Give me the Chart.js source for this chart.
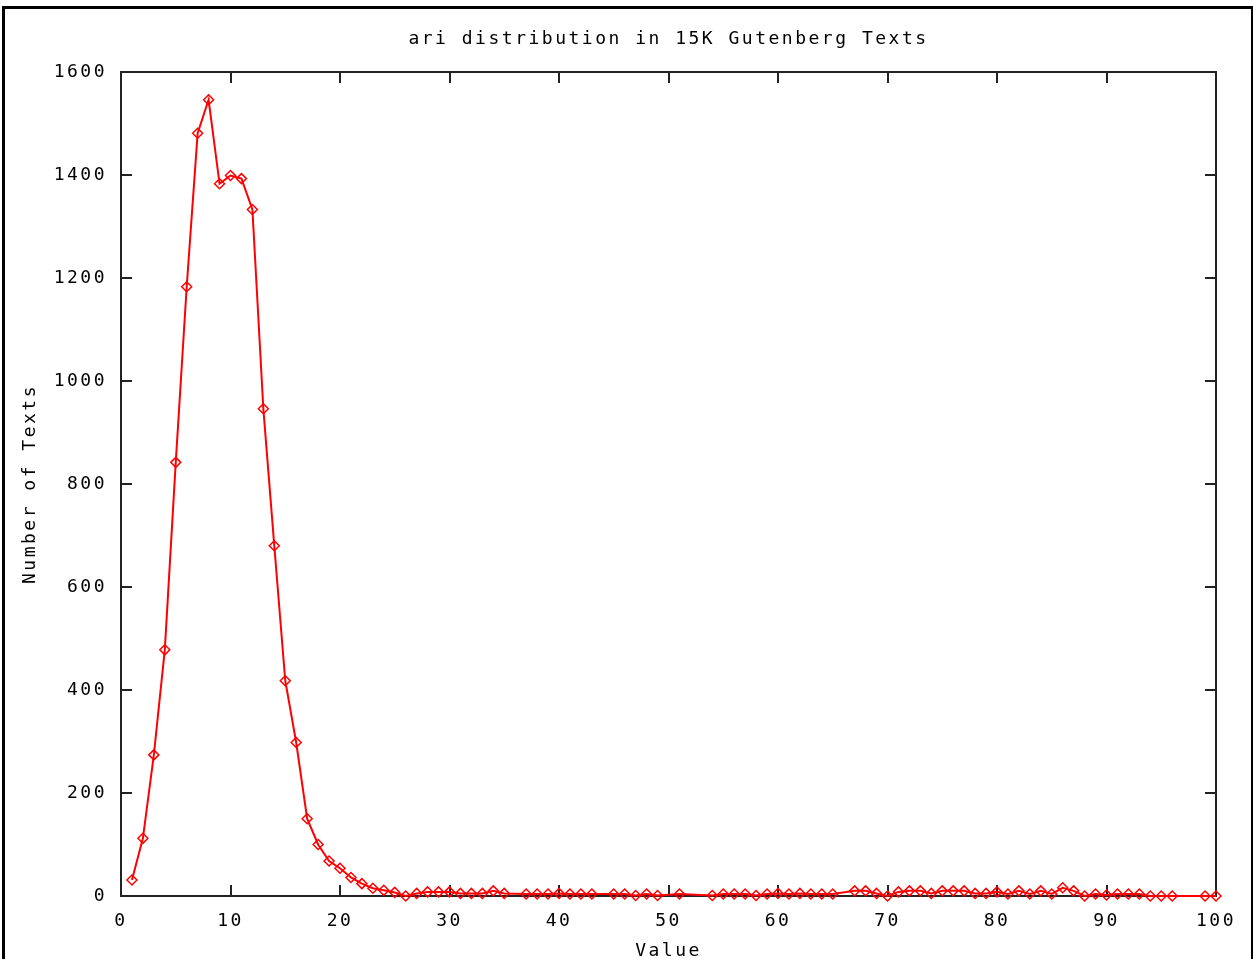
<!DOCTYPE html>
<html>
<head>
<meta charset="utf-8">
<title>ari distribution</title>
<script src="https://cdn.jsdelivr.net/npm/chart.js@4/dist/chart.umd.min.js"></script>
<style>
  html, body { margin:0; padding:0; background:#fff; }
  #wrap { position:relative; width:1253px; height:959px; overflow:hidden; }
  #chart { position:absolute; left:0; top:0; }
  #frame { position:absolute; left:2px; top:6px; width:1246px; height:970px;
           border:3px solid #000; border-bottom:none; pointer-events:none; }
</style>
</head>
<body>
<div id="wrap">
  <canvas id="chart" width="1253" height="959"></canvas>
  <div id="frame"></div>
</div>
<script>
// ari value (x) and number of texts (y)
const values = [1,2,3,4,5,6,7,8,9,10,11,12,13,14,15,16,17,18,19,20,
  21,22,23,24,25,26,27,28,29,30,31,32,33,34,35,37,38,39,40,41,42,43,
  45,46,47,48,49,51,54,55,56,57,58,59,60,61,62,63,64,65,
  67,68,69,70,71,72,73,74,75,76,77,78,79,80,81,82,83,84,85,86,87,88,
  89,90,91,92,93,94,95,96,99,100];
const counts = [31,112,274,478,842,1183,1481,1546,1383,1399,1393,1333,946,680,418,298,150,100,68,54,
  36,24,15,11,7,0,5,8,8,8,5,5,5,10,5,4,4,4,5,4,4,4,
  4,4,1,4,1,4,1,4,4,4,1,4,5,4,5,4,4,4,
  10,10,5,0,8,10,10,5,10,10,10,5,5,8,4,10,4,10,4,16,10,0,
  4,2,4,4,4,0,0,0,0,0];
const xTicks = [0,10,20,30,40,50,60,70,80,90,100];
const yTicks = [0,200,400,600,800,1000,1200,1400,1600];

const FONT = "'DejaVu Sans Mono', monospace";

const spacing = {
  id: "spacing",
  beforeLayout(chart){ chart.ctx.letterSpacing = "2.5px"; },
  beforeDraw(chart){ chart.ctx.letterSpacing = "2.5px"; }
};

// gnuplot style box with inward ticks on all four sides
const gnuFrame = {
  id: "gnuFrame",
  beforeDatasetsDraw(chart){
    const {ctx, chartArea:{left,right,top,bottom}, scales:{x,y}} = chart;
    ctx.save();
    ctx.strokeStyle = "#222";
    ctx.lineWidth = 2;
    ctx.strokeRect(left, top, right-left, bottom-top);
    ctx.beginPath();
    x.ticks.forEach(t => {
      const px = Math.round(x.getPixelForValue(t.value));
      ctx.moveTo(px, bottom); ctx.lineTo(px, bottom-11);
      ctx.moveTo(px, top); ctx.lineTo(px, top+11);
    });
    y.ticks.forEach(t => {
      const py = Math.round(y.getPixelForValue(t.value));
      ctx.moveTo(left, py); ctx.lineTo(left+11, py);
      ctx.moveTo(right, py); ctx.lineTo(right-11, py);
    });
    ctx.stroke();
    ctx.restore();
  }
};

const points = values.map((v,i) => ({x:v, y:counts[i]}));

new Chart(document.getElementById("chart").getContext("2d"), {
  type: "line",
  data: {
    datasets: [{
      data: points,
      borderColor: "#ff0000",
      borderWidth: 2,
      tension: 0,
      pointStyle: "rectRot",
      pointRadius: 5,
      pointBorderWidth: 1.5,
      pointBorderColor: "#ff0000",
      pointBackgroundColor: "rgba(255,255,255,0)",
      clip: false
    }]
  },
  options: {
    responsive: false,
    animation: false,
    devicePixelRatio: 1,
    layout: { padding: { left:0, right:37, top:0, bottom:0 } },
    plugins: {
      legend: { display:false },
      tooltip: { enabled:false }
    },
    scales: {
      x: {
        type: "linear", min: 0, max: 100,
        afterBuildTicks: s => { s.ticks = xTicks.map(v => ({value:v})); },
        afterFit: s => { s.height = 63; },
        grid: { display:false, drawTicks:false },
        border: { display:false },
        ticks: { color:"#000", font:{ family:FONT, size:18 }, padding:15, maxRotation:0,
                 callback: v => String(v) },
        title: { display:true, text:"Value", color:"#000",
                 font:{ family:FONT, size:18, lineHeight:0.8 }, padding:{ top:0, bottom:0 } }
      },
      xTop: {
        type: "linear", position: "top", min: 0, max: 100,
        afterFit: s => { s.height = 72; },
        grid: { display:false, drawTicks:false },
        border: { display:false },
        ticks: { display:false },
        title: { display:true, text:"ari distribution in 15K Gutenberg Texts", color:"#000",
                 font:{ family:FONT, size:18 }, padding:{ top:29, bottom:0 } }
      },
      y: {
        min: 0, max: 1600,
        afterBuildTicks: s => { s.ticks = yTicks.map(v => ({value:v})); },
        afterFit: s => { s.width = 121; },
        grid: { display:false, drawTicks:false },
        border: { display:false },
        ticks: { color:"#000", font:{ family:FONT, size:18 }, padding:14,
                 callback: v => String(v) },
        title: { display:true, text:"Number of Texts", color:"#000",
                 font:{ family:FONT, size:18 }, padding:{ top:20, bottom:0 } }
      }
    }
  },
  plugins: [spacing, gnuFrame]
});
</script>
</body>
</html>
